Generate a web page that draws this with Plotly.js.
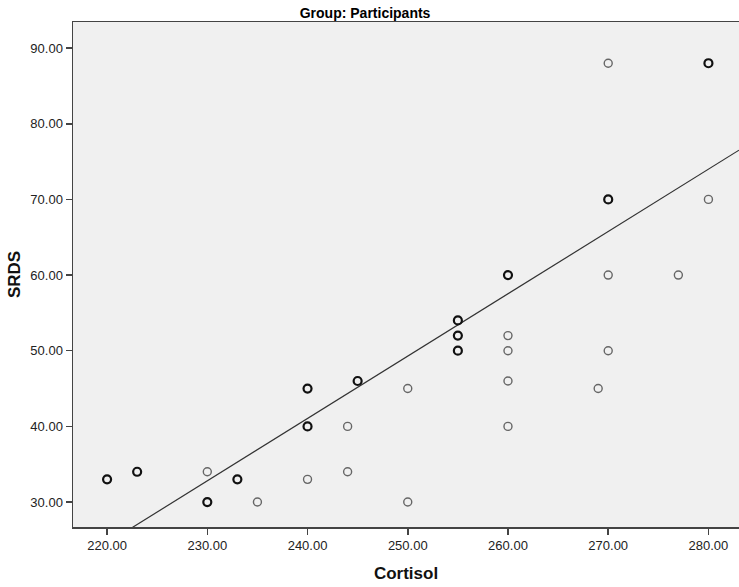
<!DOCTYPE html>
<html>
<head>
<meta charset="utf-8">
<script src="https://cdn.plot.ly/plotly-3.0.1.min.js"></script>
<style>html,body{margin:0;padding:0;background:#fff;}#chart{width:739px;height:587px;}</style>
</head>
<body>
<div id="chart"></div>
<script>
// Cortisol (x), SRDS (y), and how many cases sit on that spot (overlapping markers look bold)
const cortisol = [220, 223, 230, 230, 233, 235, 240, 240, 240, 244, 244, 245, 250, 250,
                  255, 255, 255, 260, 260, 260, 260, 260, 269, 270, 270, 270, 270, 277, 280, 280];
const srds     = [33, 34, 30, 34, 33, 30, 45, 40, 33, 40, 34, 46, 45, 30,
                  54, 52, 50, 60, 52, 50, 46, 40, 45, 88, 70, 60, 50, 60, 88, 70];
const counts   = [2, 2, 2, 1, 2, 1, 2, 2, 1, 1, 1, 2, 1, 1,
                  2, 2, 2, 2, 1, 1, 1, 1, 1, 1, 2, 1, 1, 1, 2, 1];
// Fit line: SRDS = slope * Cortisol + intercept
const fitSlope = 0.824;
const fitIntercept = -156.72;
const xTicks = [220, 230, 240, 250, 260, 270, 280];
const yTicks = [30, 40, 50, 60, 70, 80, 90];

const lc = counts.map(c => c > 1 ? '#111' : '#666');
const lw = counts.map(c => c > 1 ? 2.2 : 1.4);
const xRange = [216.6, 283.05];
const yRange = [26.7, 93.45];
const fitX = xRange.slice();
const fitY = fitX.map(v => fitSlope * v + fitIntercept);

const traces = [
  {x: fitX, y: fitY, mode: 'lines', type: 'scatter', line: {color: '#333', width: 1.2}, hoverinfo: 'skip', showlegend: false},
  {x: cortisol, y: srds, mode: 'markers', type: 'scatter', showlegend: false,
   marker: {symbol: 'circle-open', size: 8, color: lc, line: {color: lc, width: lw}}}
];
const fam = 'Liberation Sans, Arial, sans-serif';
const tickFont = {family: fam, size: 13, color: '#222'};
const layout = {
  width: 739, height: 587,
  margin: {l: 73, r: 0, t: 22, b: 60},
  paper_bgcolor: '#fff', plot_bgcolor: '#f0f0f0',
  title: {text: '<b>Group: Participants</b>', font: {family: fam, size: 14, color: '#000'},
          x: 0.494, xanchor: 'center', xref: 'container', y: 0.978, yanchor: 'middle', yref: 'container'},
  xaxis: {range: xRange, tickvals: xTicks, ticktext: xTicks.map(v => v.toFixed(2)),
          showgrid: false, zeroline: false, showline: true, linecolor: '#444', linewidth: 1.5, mirror: true,
          ticks: 'outside', ticklen: 6, tickwidth: 1.5, tickcolor: '#444', tickfont: tickFont,
          title: {text: '<b>Cortisol</b>', font: {family: fam, size: 17, color: '#111'}, standoff: 15}},
  yaxis: {range: yRange, tickvals: yTicks, ticktext: yTicks.map(v => v.toFixed(2)),
          showgrid: false, zeroline: false, showline: true, linecolor: '#444', linewidth: 1.5, mirror: true,
          ticks: 'outside', ticklen: 6, tickwidth: 1.5, tickcolor: '#444', tickfont: tickFont,
          title: {text: '<b>SRDS</b>', font: {family: fam, size: 17, color: '#111'}, standoff: 5}}
};
Plotly.newPlot('chart', traces, layout, {displayModeBar: false, staticPlot: true});
</script>
</body>
</html>
